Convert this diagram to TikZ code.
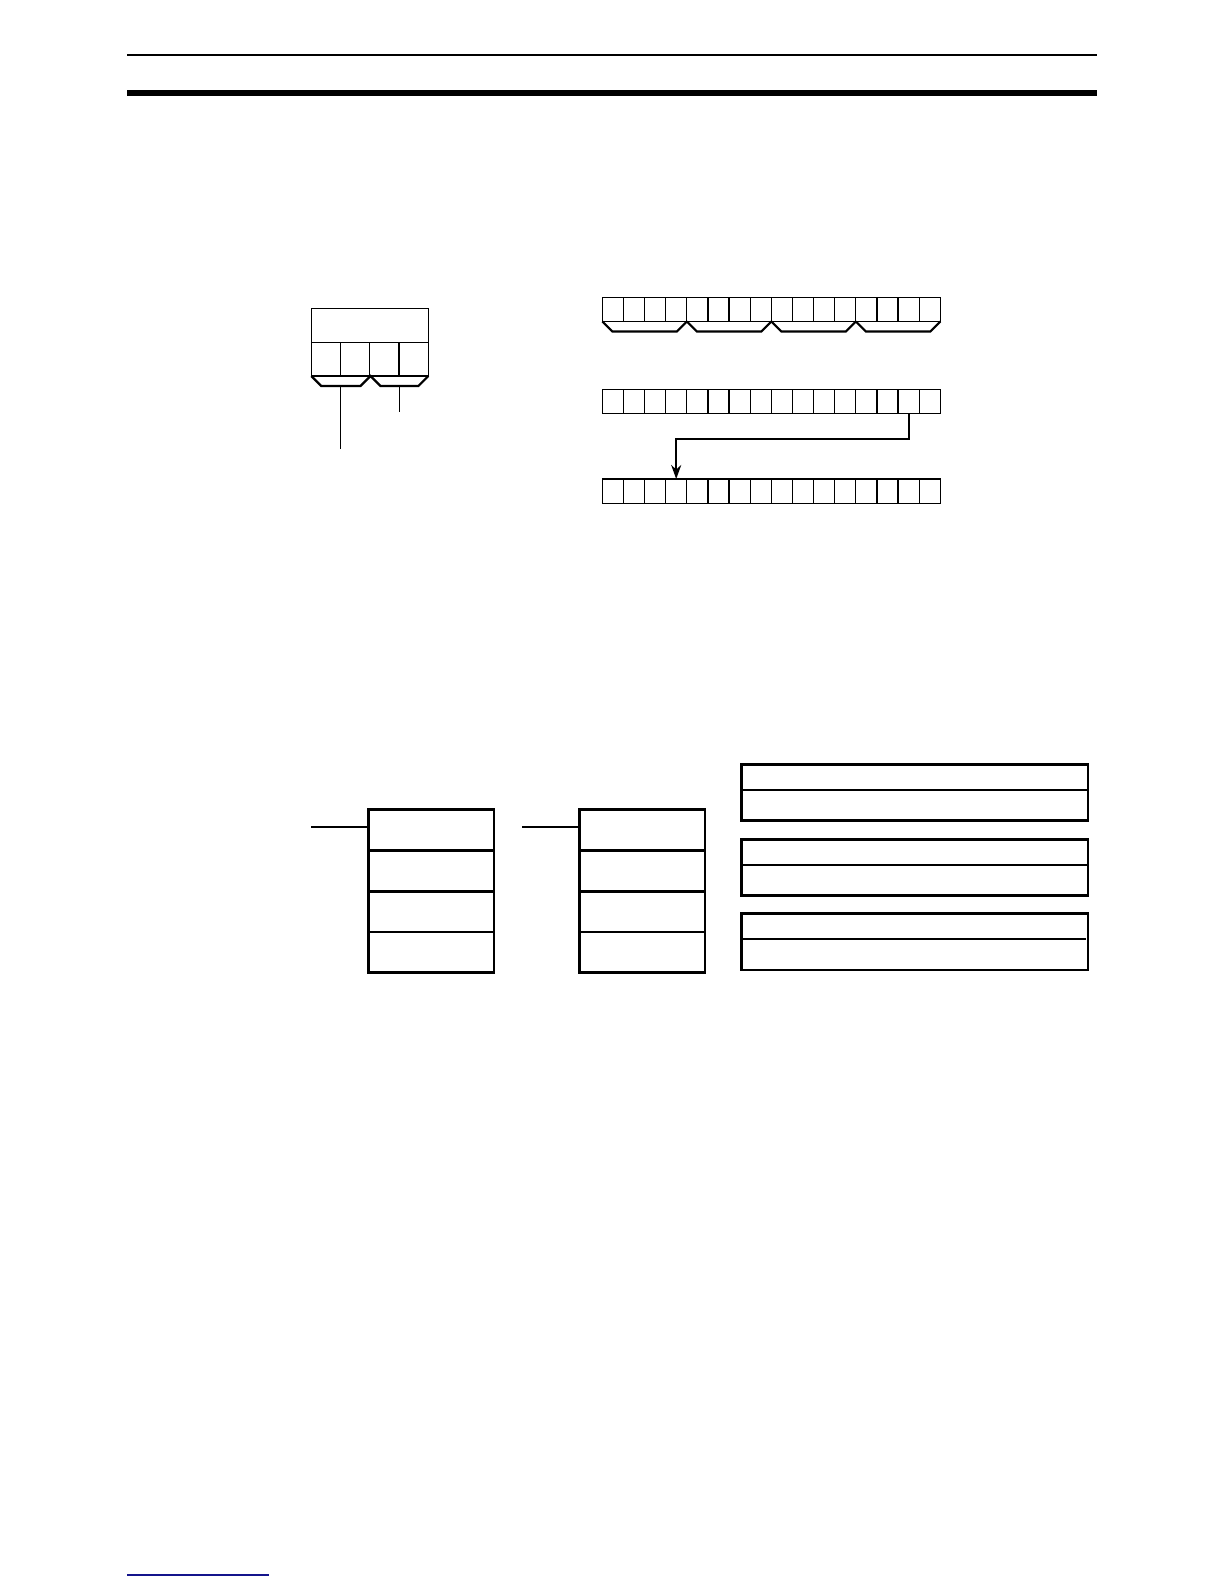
\documentclass[tikz,border=0pt]{standalone}
\usetikzlibrary{arrows.meta}
\begin{document}
\begin{tikzpicture}[x=0.5pt,y=-0.5pt,
  cell/.style={line width=0.6pt},
  brk/.style={line width=1.1pt,line join=miter},
  heavy/.style={line width=1.25pt},
  lead/.style={line width=0.6pt},
  conn/.style={line width=1.1pt,-{Stealth[length=7pt,width=5pt]}}]
\useasboundingbox (0,0) rectangle (1224,1584);
% header rules
\draw[line width=0.6pt] (127,55) -- (1097,55);
\fill (127,90) rectangle (1097,95.7);
% footer rule
\draw[line width=0.8pt,draw={rgb,255:red,20;green,20;blue,140}] (127,1575) -- (269,1575);

% ---- small word box (left) ----
\draw[cell] (311.3,308.3) rectangle (428.3,376);
\draw[cell] (311.3,342.3) -- (428.3,342.3);
\foreach \i in {1,2,3} \draw[cell] (311.3+\i*29.25,342.3) -- (311.3+\i*29.25,376);
\draw[brk] (311.3,376) -- (321.3,386) -- (360.5,386) -- (370.5,376) -- (380.5,386) -- (418.3,386) -- (428.3,376);
\coordinate (lb) at (340.5,386);
\coordinate (lbend) at (340.5,449);
\coordinate (rb) at (399.5,386);
\coordinate (rbend) at (399.5,411.7);
\draw[lead] (lb) -- (lbend);
\draw[lead] (rb) -- (rbend);

% ---- 16-bit rows (right) ----
\foreach \y in {297.3,389.3,479}{
  \draw[cell] (602.3,\y) rectangle (940.3,\y+24.2);
  \foreach \i in {1,...,15} \draw[cell] (602.3+\i*21.125,\y) -- (602.3+\i*21.125,\y+24.2);
}
\foreach \g in {0,1,2,3}
  \draw[brk] (602.3+\g*84.5,321.5) -- (612.3+\g*84.5,331.5) -- (676.8+\g*84.5,331.5) -- (686.8+\g*84.5,321.5);
\coordinate (src) at (908.6,413.5);
\coordinate (dst) at (676.2,479);
\draw[conn] (src) -- (908.6,439) -- (676.2,439) -- (dst);

% ---- bottom: two stacked boxes ----
\foreach \xl/\xs in {368.7/311,579.7/522}{
  \draw[heavy] (\xl,809.7) rectangle (\xl+125.3,972.7);
  \foreach \yy in {850.7,891.3,932} \draw[heavy] (\xl,\yy) -- (\xl+125.3,\yy);
  \draw[heavy] (\xs,827) -- (\xl,827);
}
% ---- bottom right: three two-row boxes ----
\foreach \yt/\ym/\yb in {764.7/790/820.7,839.3/865/895.7}{
  \draw[heavy] (741.7,\yt) rectangle (1088,\yb);
  \draw[heavy] (741.7,\ym) -- (1088,\ym);
}
\draw[heavy] (741.7,913.7) rectangle (1088,970);
\draw[heavy] (740,939) -- (1085.7,939);
\end{tikzpicture}
\end{document}
